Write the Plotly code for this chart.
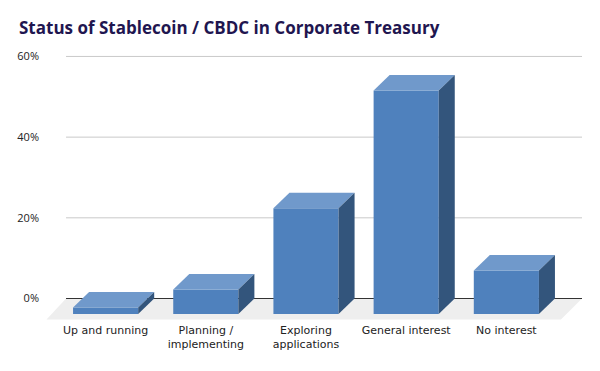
import plotly.graph_objects as go

categories = ["Up and running", "Planning /<br>implementing", "Exploring<br>applications", "General interest", "No interest"]
values = [1.6, 6.1, 26.2, 55.4, 10.8]
y_ticks = [0, 20, 40, 60]
y_labels = ["0%", "20%", "40%", "60%"]

TITLE = "Status of Stablecoin / CBDC in Corporate Treasury"
FRONT, TOP, SIDE = "#4f81bd", "#7099cb", "#33557c"
BAR_W, DX, DY = 0.65, 0.16, 3.84
XMIN, XMAX = -0.595, 4.755
GRID_L, GRID_R = -0.395, 4.755

xs = list(range(len(values)))
fig = go.Figure()
fig.add_trace(go.Bar(x=xs, y=values, base=-DY, width=BAR_W,
                     marker=dict(color=FRONT, line=dict(width=0)), hoverinfo="skip"))
for x, v in zip(xs, values):
    l, r = x - BAR_W / 2, x + BAR_W / 2
    fig.add_trace(go.Scatter(x=[l, r, r + DX, l + DX, l], y=[v - DY, v - DY, v, v, v - DY],
                             fill="toself", fillcolor=TOP, mode="none", hoverinfo="skip"))
    fig.add_trace(go.Scatter(x=[r, r + DX, r + DX, r, r], y=[-DY, 0, v, v - DY, -DY],
                             fill="toself", fillcolor=SIDE, mode="none", hoverinfo="skip"))

shapes = [dict(type="path", layer="below", line=dict(width=0), fillcolor="#eeeeee",
               path=f"M {XMIN+0.005} -5.2 L {XMAX-0.21} -5.2 L {XMAX} 0 L {GRID_L} 0 Z")]
for t in y_ticks:
    shapes.append(dict(type="line", layer="below", x0=GRID_L, x1=GRID_R, y0=t, y1=t,
                       line=dict(color="#333333" if t == 0 else "#c9c9c9", width=1)))

fig.update_layout(
    width=600, height=371, showlegend=False, plot_bgcolor="white", paper_bgcolor="white",
    margin=dict(l=38, r=26, t=42, b=59), shapes=shapes,
    title=dict(text=f"<b>{TITLE}</b>", x=11 / 600, xanchor="left", y=1 - 20 / 371, yanchor="middle",
               font=dict(family="Open Sans", size=17, color="#1f1650")),
    xaxis=dict(range=[XMIN, XMAX], tickmode="array", tickvals=xs, ticktext=categories,
               showgrid=False, zeroline=False, showline=False, ticks="", fixedrange=True,
               automargin=False, ticklabelstandoff=2,
               tickangle=0, tickfont=dict(family="DejaVu Sans", size=11, color="#222222")),
    yaxis=dict(range=[-5.33, 61.6], tickmode="array", tickvals=y_ticks, ticktext=y_labels,
               showgrid=False, zeroline=False, showline=False, ticks="", fixedrange=True,
               automargin=False, ticklabelstandoff=6,
               tickfont=dict(family="Open Sans", size=11, color="#222222")),
)
fig.write_html("out.html")
